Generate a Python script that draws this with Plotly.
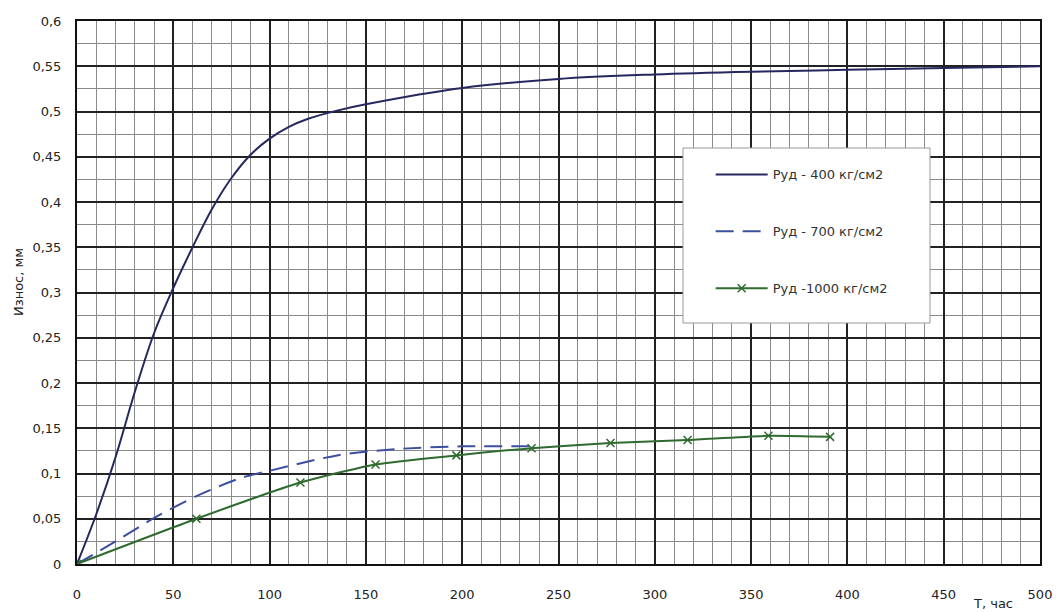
import plotly.graph_objects as go

# Data
t_400 = [0, 10, 20, 30, 40, 50, 60, 70, 80, 90, 100, 110, 120, 135, 150, 200, 250, 300, 350, 400, 450, 500]
w_400 = [0, 0.055, 0.118, 0.19, 0.255, 0.305, 0.35, 0.392, 0.426, 0.452, 0.47, 0.483, 0.492, 0.501, 0.508, 0.526, 0.536, 0.541, 0.544, 0.546, 0.548, 0.55]

t_700 = [0, 20, 41, 62, 85, 100, 135, 166, 200, 238]
w_700 = [0, 0.025, 0.052, 0.075, 0.095, 0.103, 0.120, 0.127, 0.130, 0.130]

t_1000 = [0, 62, 116, 155, 197, 236, 277, 317, 359, 391]
w_1000 = [0, 0.050, 0.090, 0.110, 0.120, 0.128, 0.1336, 0.137, 0.1417, 0.1405]

names = ["Руд - 400 кг/см2", "Руд - 700 кг/см2", "Руд -1000 кг/см2"]
x_ticks = [0, 50, 100, 150, 200, 250, 300, 350, 400, 450, 500]
y_ticks = [0, 0.05, 0.1, 0.15, 0.2, 0.25, 0.3, 0.35, 0.4, 0.45, 0.5, 0.55, 0.6]

FONT = "DejaVu Sans, Arial, sans-serif"
FS = 13

fig = go.Figure()
fig.add_trace(go.Scatter(x=t_400, y=w_400, mode="lines", name=names[0],
                         legendgroup="a",
                         line=dict(color="#25285e", width=2, shape="spline", smoothing=1.0)))
fig.add_trace(go.Scatter(x=t_700, y=w_700, mode="lines", name=names[1],
                         legendgroup="b",
                         line=dict(color="#3b4fa0", width=2, dash="18px,9px", shape="spline", smoothing=0.8)))
fig.add_trace(go.Scatter(x=t_1000, y=w_1000, mode="lines+markers", name=names[2],
                         legendgroup="c",
                         line=dict(color="#2f6a2f", width=2, shape="spline", smoothing=0.6),
                         marker=dict(symbol="x-thin-open", size=8, color="#2f6a2f",
                                     line=dict(color="#2f6a2f", width=1.5))))

fig.update_layout(
    width=1056, height=612,
    margin=dict(l=77, r=16, t=21, b=48, autoexpand=False),
    paper_bgcolor="white", plot_bgcolor="white",
    separators=", ",
    font=dict(family=FONT, size=FS, color="#222"),
    showlegend=True,
    legend=dict(x=0.658, y=0.745, xanchor="left", yanchor="top",
                bgcolor="rgba(0,0,0,0)", borderwidth=0,
                tracegroupgap=37, itemwidth=52,
                font=dict(family=FONT, size=FS, color="#333")),
)

fig.update_xaxes(range=[0, 500], tickvals=x_ticks, ticks="", showline=True, linecolor="#111",
                 linewidth=2, mirror=True, zeroline=False, automargin=False,
                 showgrid=True, gridcolor="#222", gridwidth=1.5,
                 minor=dict(dtick=10, showgrid=True, gridcolor="#8a8a8a", gridwidth=1),
                 ticklabelstandoff=17,
                 tickfont=dict(family=FONT, size=FS, color="#222"))
fig.update_yaxes(range=[0, 0.6], tickvals=y_ticks, ticks="", showline=True, linecolor="#111",
                 linewidth=2, mirror=True, zeroline=False, automargin=False,
                 showgrid=True, gridcolor="#222", gridwidth=1.5,
                 minor=dict(dtick=0.025, showgrid=True, gridcolor="#8a8a8a", gridwidth=1),
                 ticklabelstandoff=11,
                 tickfont=dict(family=FONT, size=FS, color="#222"))

# legend box
fig.add_shape(type="rect", xref="paper", yref="paper",
              x0=(683 - 77) / 963, x1=(930 - 77) / 963,
              y0=(564 - 323) / 543, y1=(564 - 148) / 543,
              fillcolor="white", line=dict(color="#999", width=1), layer="above")

fig.add_annotation(text="Износ, мм", xref="paper", yref="paper",
                   x=(18 - 77) / 963, y=(564 - 282) / 543, textangle=-90,
                   showarrow=False, xanchor="center", yanchor="middle",
                   font=dict(family=FONT, size=FS, color="#222"))
fig.add_annotation(text="Т, час", xref="paper", yref="paper",
                   x=(993 - 77) / 963, y=(564 - 603) / 543,
                   showarrow=False, xanchor="center", yanchor="middle",
                   font=dict(family=FONT, size=FS, color="#222"))

fig.write_html("out.html")
